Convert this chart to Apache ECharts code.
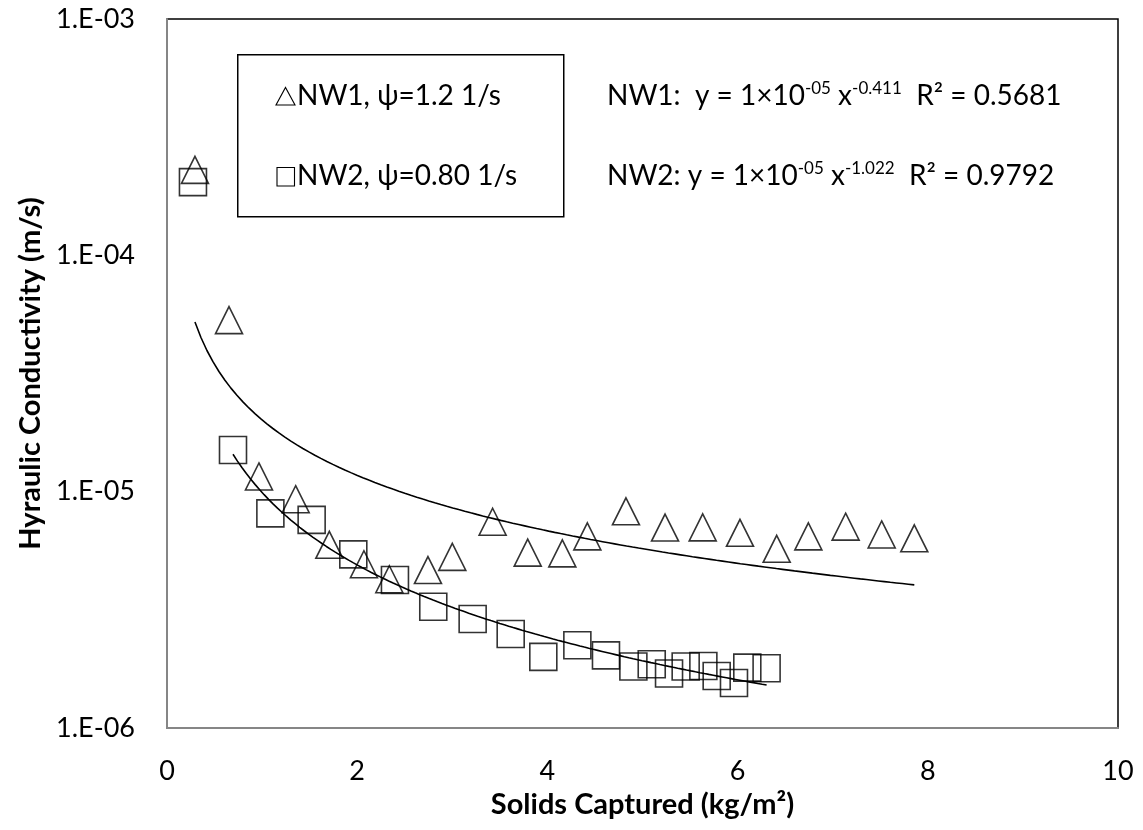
<!DOCTYPE html>
<html>
<head>
<meta charset="utf-8">
<script src="https://cdn.jsdelivr.net/npm/echarts@6/dist/echarts.min.js"></script>
<style>
  html, body { margin: 0; padding: 0; background: #fff; }
  #chart { width: 1143px; height: 830px; }
</style>
</head>
<body>
<div id="chart"></div>
<script>
// ---- Data ----
const nw1X = [0.294, 0.652, 0.967, 1.353, 1.707, 2.071, 2.338, 2.744, 3.000, 3.424, 3.793, 4.157, 4.420, 4.826, 5.237, 5.633, 6.025, 6.411, 6.744, 7.136, 7.515, 7.858];
const nw1Y = [2.30e-4, 5.32e-5, 1.16e-5, 9.29e-6, 5.96e-6, 4.93e-6, 4.26e-6, 4.66e-6, 5.30e-6, 7.46e-6, 5.52e-6, 5.48e-6, 6.47e-6, 8.26e-6, 7.05e-6, 7.06e-6, 6.70e-6, 5.73e-6, 6.47e-6, 7.11e-6, 6.59e-6, 6.35e-6];

const nw2X = [0.694, 1.087, 1.521, 1.959, 2.397, 2.800, 3.214, 3.614, 3.957, 4.315, 4.616, 4.904, 5.097, 5.279, 5.454, 5.640, 5.780, 5.962, 6.102, 6.305];
const nw2Y = [1.50e-5, 8.09e-6, 7.60e-6, 5.43e-6, 4.23e-6, 3.26e-6, 2.89e-6, 2.50e-6, 2.00e-6, 2.24e-6, 2.03e-6, 1.82e-6, 1.86e-6, 1.70e-6, 1.82e-6, 1.83e-6, 1.66e-6, 1.55e-6, 1.80e-6, 1.79e-6];

// first NW2 reading, not part of the NW2 trendline
const nw2EarlyX = [0.273];
const nw2EarlyY = [2.04e-4];

const xTicks = [0, 2, 4, 6, 8, 10];
const yTickLabels = ['1.E-06', '1.E-05', '1.E-04', '1.E-03'];

const legendLabels = ['NW1, \u03C8=1.2 1/s', 'NW2, \u03C8=0.80 1/s'];

// ---- Power-law least-squares fit (as a spreadsheet trendline does) ----
function powerFit(xs, ys) {
  const n = xs.length;
  let sx = 0, sy = 0;
  for (let i = 0; i < n; i++) { sx += Math.log(xs[i]); sy += Math.log(ys[i]); }
  const mx = sx / n, my = sy / n;
  let sxy = 0, sxx = 0;
  for (let i = 0; i < n; i++) {
    const dx = Math.log(xs[i]) - mx;
    sxy += dx * (Math.log(ys[i]) - my);
    sxx += dx * dx;
  }
  const b = sxy / sxx;
  const a = Math.exp(my - b * mx);
  return { a, b, xmin: Math.min(...xs), xmax: Math.max(...xs) };
}
function trendPoints(fit, steps) {
  const pts = [];
  for (let i = 0; i <= steps; i++) {
    const x = fit.xmin + (fit.xmax - fit.xmin) * i / steps;
    pts.push([x, fit.a * Math.pow(x, fit.b)]);
  }
  return pts;
}
const fit1 = powerFit(nw1X, nw1Y);
const fit2 = powerFit(nw2X, nw2Y);

const zip = (xs, ys) => xs.map((x, i) => [x, ys[i]]);

const FONT = 'Lato, "Open Sans", sans-serif';
const markerStyle = { color: 'rgba(0,0,0,0)', borderColor: '#000', borderWidth: 1.6 };

const chart = echarts.init(document.getElementById('chart'), null, { renderer: 'canvas' });

const supRich = {
  m: { fontSize: 28, fontFamily: FONT, fill: '#000', lineHeight: 32 },
  s: { fontSize: 17, fontFamily: FONT, fill: '#000', lineHeight: 17, verticalAlign: 'top' }
};

chart.setOption({
  animation: false,
  backgroundColor: '#fff',
  grid: {
    left: 167, right: 25, top: 19, bottom: 102,
    show: true, borderColor: '#000', borderWidth: 1.5, backgroundColor: 'transparent'
  },
  xAxis: {
    type: 'value', min: xTicks[0], max: xTicks[xTicks.length - 1], interval: 2,
    name: 'Solids Captured (kg/m\u00B2)', nameLocation: 'middle', nameGap: 49,
    nameTextStyle: { fontFamily: FONT, fontSize: 29, fontWeight: 'bold', color: '#000' },
    axisLine: { show: true, lineStyle: { color: '#868686', width: 2 } },
    axisTick: { show: false },
    splitLine: { show: false },
    axisLabel: { fontFamily: FONT, fontSize: 27, color: '#000', margin: 30 }
  },
  yAxis: {
    type: 'log', logBase: 10, min: 1e-6, max: 1e-3,
    name: 'Hyraulic Conductivity (m/s)', nameLocation: 'middle', nameGap: 121, nameRotate: 90,
    nameTextStyle: { fontFamily: FONT, fontSize: 29, fontWeight: 'bold', color: '#000' },
    axisLine: { show: true, lineStyle: { color: '#868686', width: 2 } },
    axisTick: { show: false },
    splitLine: { show: false },
    minorTick: { show: false },
    axisLabel: {
      fontFamily: FONT, fontSize: 27, color: '#000', margin: 32,
      formatter: function (v) {
        const e = Math.round(Math.log10(v));
        const idx = e + 6;
        return yTickLabels[idx] !== undefined ? yTickLabels[idx] : '';
      }
    }
  },
  series: [
    {
      name: 'NW1 trend', type: 'line', data: trendPoints(fit1, 120), showSymbol: false, symbol: 'none',
      lineStyle: { color: '#000', width: 1.6 }, z: 2, silent: true
    },
    {
      name: 'NW2 trend', type: 'line', data: trendPoints(fit2, 120), showSymbol: false, symbol: 'none',
      lineStyle: { color: '#000', width: 1.6 }, z: 2, silent: true
    },
    {
      name: 'NW1', type: 'scatter', data: zip(nw1X, nw1Y), symbol: 'triangle', symbolSize: [27, 27],
      itemStyle: markerStyle, z: 3
    },
    {
      name: 'NW2', type: 'scatter', data: zip(nw2X, nw2Y), symbol: 'rect', symbolSize: [27, 27],
      itemStyle: markerStyle, z: 3
    },
    {
      name: 'NW2 early', type: 'scatter', data: zip(nw2EarlyX, nw2EarlyY), symbol: 'rect', symbolSize: [27, 27],
      itemStyle: markerStyle, z: 3
    }
  ],
  graphic: [
    {
      type: 'rect', left: 237, top: 54, z: 10,
      shape: { width: 326, height: 162 },
      style: { fill: '#fff', stroke: '#000', lineWidth: 1.5 }
    },
    {
      type: 'polygon', z: 11,
      shape: { points: [[276, 105], [295, 105], [285.5, 87.5]] },
      style: { fill: 'none', stroke: '#000', lineWidth: 1.1 }
    },
    {
      type: 'text', x: 297, y: 96, z: 11,
      style: { text: legendLabels[0], font: '28px ' + FONT, fill: '#000', textAlign: 'left', textVerticalAlign: 'middle' }
    },
    {
      type: 'rect', z: 11,
      shape: { x: 277, y: 167.5, width: 17.5, height: 18.5 },
      style: { fill: 'none', stroke: '#000', lineWidth: 1.1 }
    },
    {
      type: 'text', x: 297, y: 176, z: 11,
      style: { text: legendLabels[1], font: '28px ' + FONT, fill: '#000', textAlign: 'left', textVerticalAlign: 'middle' }
    },
    {
      type: 'text', left: 607, top: 80, z: 11,
      style: {
        text: '{m|NW1:  y = 1\u00D710}{s|-05}{m| x}{s|-0.411}{m|  R\u00B2 = 0.5681}',
        rich: supRich
      }
    },
    {
      type: 'text', left: 607, top: 160, z: 11,
      style: {
        text: '{m|NW2: y = 1\u00D710}{s|-05}{m| x}{s|-1.022}{m|  R\u00B2 = 0.9792}',
        rich: supRich
      }
    }
  ]
});
</script>
</body>
</html>
